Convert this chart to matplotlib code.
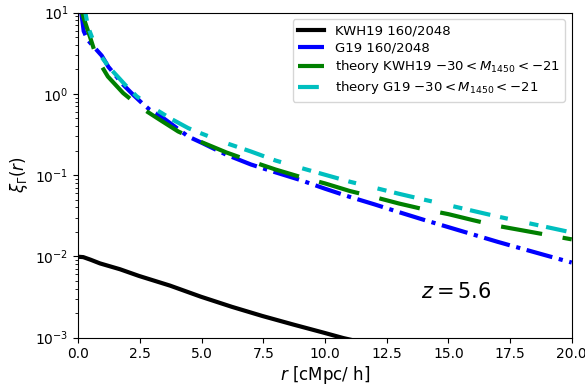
import matplotlib
matplotlib.use("Agg")
import matplotlib.pyplot as plt

# KWH19 160/2048 (simulation)
r_kwh = [0.0, 0.2, 0.5, 0.88, 1.69, 2.46, 3.72, 4.96, 6.22, 7.46, 8.72, 9.96, 10.74, 12.0]
xi_kwh = [0.0099, 0.0098, 0.0091, 0.0082, 0.00695, 0.00575, 0.00437, 0.0032, 0.0024,
          0.00185, 0.00145, 0.00115, 0.00099, 0.00081]

# G19 160/2048 (simulation)
r_g19 = [0.1, 0.17, 0.22, 0.38, 0.95, 1.22, 1.5, 1.76, 2.23, 2.57, 2.9, 3.43, 4.46,
         5.0, 6.0, 7.0, 8.0, 9.0, 10.0, 11.0, 12.0, 13.0, 14.0, 15.0, 16.0, 17.0,
         18.0, 19.0, 20.0]
xi_g19 = [11.0, 7.8, 5.9, 4.6, 2.95, 2.15, 1.7, 1.35, 0.97, 0.775, 0.635, 0.507, 0.298,
          0.25, 0.178, 0.135, 0.108, 0.087, 0.068, 0.054, 0.0437, 0.035, 0.0282, 0.0229,
          0.0186, 0.0151, 0.0124, 0.0102, 0.0084]

# theory KWH19
r_th_kwh = [0.12, 0.2, 0.47, 0.75, 1.2, 1.82, 2.57, 3.3, 4.05, 5.0, 6.0, 7.0, 8.0, 9.0,
            10.0, 11.0, 12.0, 13.0, 14.0, 15.0, 16.0, 17.0, 18.0, 19.0, 20.0]
xi_th_kwh = [11.0, 8.9, 5.07, 2.75, 1.63, 1.02, 0.667, 0.48, 0.344, 0.254, 0.19, 0.148,
             0.117, 0.095, 0.079, 0.0638, 0.0537, 0.0447, 0.038, 0.0331, 0.0279, 0.0237,
             0.0209, 0.0184, 0.0162]

# theory G19
r_th_g19 = [0.15, 0.3, 0.4, 0.54, 0.81, 1.08, 1.22, 1.9, 2.1, 2.37, 3.11, 3.38, 3.72,
            4.46, 5.0, 6.0, 7.0, 8.0, 9.0, 10.0, 11.0, 12.0, 13.0, 14.0, 15.0, 16.0,
            17.0, 18.0, 19.0, 20.0]
xi_th_g19 = [14.0, 9.5, 6.6, 5.1, 3.2, 2.5, 2.17, 1.29, 1.12, 0.93, 0.65, 0.58, 0.5,
             0.378, 0.324, 0.247, 0.195, 0.151, 0.123, 0.101, 0.083, 0.07, 0.0589, 0.05,
             0.0427, 0.0363, 0.0309, 0.0266, 0.0229, 0.0197]

labels = ["KWH19 160/2048", "G19 160/2048",
          r"theory KWH19 $-30<M_{1450}<-21$", r"theory G19 $-30<M_{1450}<-21$"]

fig = plt.figure(figsize=(5.85, 3.87), dpi=100)
ax = fig.add_axes([0.1338, 0.1274, 0.8435, 0.8403])

ax.plot(r_kwh, xi_kwh, color="k", lw=3, ls="-", label=labels[0])
ax.plot(r_g19, xi_g19, color="b", lw=3, ls="-.", label=labels[1])
ax.plot(r_th_kwh, xi_th_kwh, color="g", lw=3, dashes=(10, 5), label=labels[2])
ax.plot(r_th_g19, xi_th_g19, color="c", lw=3,
        dashes=(5.0, 2.4, 1.9, 5.3, 2.2, 1.9), label=labels[3])

ax.set_yscale("log")
ax.set_xlim(0, 20)
ax.set_ylim(1e-3, 1e1)
ax.set_xlabel(r"$r$ [cMpc/ h]", fontsize=12, labelpad=2)
ax.set_ylabel(r"$\xi_\Gamma(r)$", fontsize=12)
ax.tick_params(labelsize=10)
ax.text(13.9, 10 ** -2.437, r"$z = 5.6$", fontsize=15, ha="left", va="center")
ax.legend(loc="upper right", fontsize=9.5, labelspacing=0.3)

fig.savefig("out.png", dpi=100)
